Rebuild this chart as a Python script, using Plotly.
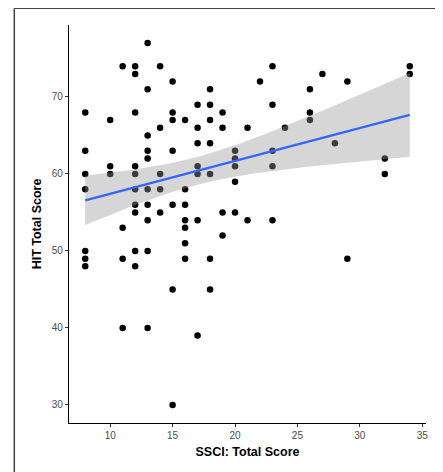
import numpy as np
import plotly.graph_objects as go

# SSCI total score (x) and HIT total score (y)
ssci = ([8]*7 + [10]*3 + [11]*4 + [12]*10 + [13]*10 + [14]*5 + [15]*7 + [16]*7 +
        [17]*7 + [18]*7 + [19]*4 + [20]*5 + [21]*2 + [22] + [23]*5 + [24] +
        [26]*3 + [27] + [28] + [29]*2 + [32]*2 + [34]*2)
hit = ([68, 63, 60, 58, 50, 49, 48] +
       [67, 61, 60] +
       [74, 53, 49, 40] +
       [74, 73, 68, 61, 60, 58, 56, 55, 50, 48] +
       [77, 71, 65, 63, 62, 58, 56, 54, 50, 40] +
       [74, 66, 60, 58, 55] +
       [72, 68, 67, 63, 56, 45, 30] +
       [67, 58, 56, 54, 53, 51, 49] +
       [69, 66, 64, 61, 60, 54, 39] +
       [71, 69, 67, 64, 60, 49, 45] +
       [68, 66, 55, 52] +
       [63, 62, 61, 59, 55] +
       [66, 54] +
       [72] +
       [74, 69, 63, 61, 54] +
       [66] +
       [71, 68, 67] +
       [73] +
       [64] +
       [72, 49] +
       [62, 60] +
       [74, 73])

x_ticks = [10, 15, 20, 25, 30, 35]
y_ticks = [30, 40, 50, 60, 70]
x_title = "SSCI: Total Score"
y_title = "HIT Total Score"

x = np.array(ssci, dtype=float)
y = np.array(hit, dtype=float)
n = len(x)
b1, b0 = np.polyfit(x, y, 1)
resid = y - (b0 + b1 * x)
s = np.sqrt(np.sum(resid**2) / (n - 2))
sxx = np.sum((x - x.mean())**2)
t975 = 1.9858  # t quantile, df = n - 2
xg = np.linspace(x.min(), x.max(), 80)
fit = b0 + b1 * xg
se = s * np.sqrt(1.0 / n + (xg - x.mean())**2 / sxx)
upper = fit + t975 * se
lower = fit - t975 * se

fig = go.Figure()
fig.add_trace(go.Scatter(x=x, y=y, mode="markers",
                         marker=dict(color="black", size=6.5),
                         hoverinfo="skip", showlegend=False))
fig.add_trace(go.Scatter(x=np.concatenate([xg, xg[::-1]]),
                         y=np.concatenate([upper, lower[::-1]]),
                         mode="lines", fill="toself",
                         fillcolor="rgba(153,153,153,0.4)",
                         line=dict(width=0), hoverinfo="skip", showlegend=False))
fig.add_trace(go.Scatter(x=xg, y=fit, mode="lines",
                         line=dict(color="#3366FF", width=2.3),
                         hoverinfo="skip", showlegend=False))

# the page body adds an 8px offset, so the figure is laid out 8px smaller
W, H = 435, 464
ml, mr, mt, mb = 61, 17, 17, 49
pw, ph = W - ml - mr, H - mt - mb

def px(xp):
    return (xp - ml) / pw

def py(yp):
    return (H - mb - yp) / ph

axis_common = dict(showgrid=False, zeroline=False, showline=True,
                   linecolor="black", linewidth=1.1,
                   ticks="outside", ticklen=3, tickcolor="#333333", tickwidth=1,
                   tickfont=dict(family="Liberation Sans, Arial, sans-serif",
                                 size=10, color="#4D4D4D"))

fig.update_layout(
    width=W, height=H,
    margin=dict(l=ml, r=mr, t=mt, b=mb, pad=0),
    paper_bgcolor="white", plot_bgcolor="white",
    font=dict(family="Liberation Sans, Arial, sans-serif"),
    xaxis=dict(range=[6.7, 35.3], tickvals=x_ticks,
               title=dict(text="<b>" + x_title + "</b>", standoff=7,
                          font=dict(size=12.5, color="black")),
               **axis_common),
    yaxis=dict(range=[27.65, 79.35], tickvals=y_ticks,
               title=dict(text="<b>" + y_title + "</b>", standoff=7,
                          font=dict(size=12.5, color="black")),
               **axis_common),
    shapes=[
        dict(type="line", xref="paper", yref="paper",
             x0=px(6.3), x1=px(6.3), y0=py(0.3), y1=py(H + 5),
             line=dict(color="#444444", width=1.5)),
        dict(type="line", xref="paper", yref="paper",
             x0=px(6.3), x1=px(W + 5), y0=py(0.3), y1=py(0.3),
             line=dict(color="#444444", width=1.5)),
    ],
)

fig.write_html("out.html")
